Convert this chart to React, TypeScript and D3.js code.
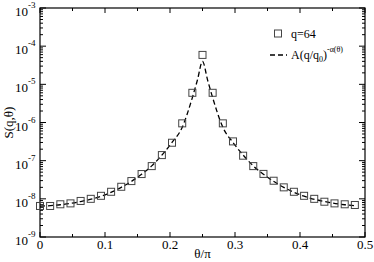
import React, { useEffect, useRef } from 'react';
import * as d3 from 'd3';

// theta/pi positions of the q=64 squares
const thetaPts = [
  0, 0.0156, 0.0313, 0.0469, 0.0625, 0.0781, 0.0938, 0.1094, 0.125, 0.1406, 0.1563,
  0.1719, 0.1875, 0.2031, 0.2188, 0.2344, 0.25, 0.2656, 0.2813, 0.2969, 0.3125, 0.3281,
  0.3438, 0.3594, 0.375, 0.3906, 0.4063, 0.4219, 0.4375, 0.4531, 0.4688, 0.4844,
];
const sPts = [
  6.5e-9, 6.5e-9, 7.2e-9, 7.6e-9, 8.8e-9, 1.0e-8, 1.2e-8, 1.53e-8, 2.07e-8, 2.92e-8, 4.46e-8,
  7.2e-8, 1.4e-7, 2.95e-7, 9.5e-7, 6.0e-6, 5.9e-5, 6.0e-6, 9.5e-7, 3.2e-7, 1.35e-7, 7.2e-8,
  4.5e-8, 2.98e-8, 2.0e-8, 1.53e-8, 1.2e-8, 1.0e-8, 8.4e-9, 7.6e-9, 7.2e-9, 6.9e-9,
];

// dashed fit curve A(q/q0)^-alpha(theta)
const thetaFit = [
  0, 0.0313, 0.0625, 0.0938, 0.125, 0.1563, 0.1719, 0.1875, 0.2031, 0.2188, 0.2266, 0.2344,
  0.2422, 0.25, 0.2578, 0.2656, 0.2734, 0.2813, 0.2969, 0.3125, 0.3281, 0.3438, 0.375, 0.4063,
  0.4375, 0.4688, 0.4844,
];
const sFit = [
  6.4e-9, 7.0e-9, 8.5e-9, 1.17e-8, 2.0e-8, 4.4e-8, 7.3e-8, 1.4e-7, 3.0e-7, 7.5e-7, 1.7e-6, 4.5e-6,
  1.3e-5, 4.0e-5, 1.3e-5, 4.5e-6, 1.7e-6, 7.5e-7, 3.0e-7, 1.4e-7, 7.3e-8, 4.4e-8, 2.0e-8, 1.17e-8,
  8.5e-9, 7.0e-9, 6.6e-9,
];

const xTicks = [0, 0.1, 0.2, 0.3, 0.4, 0.5];
const yExps = [-9, -8, -7, -6, -5, -4, -3];

const W = 374;
const H = 262;
const margin = { top: 8, right: 9, bottom: 25, left: 40 };
const FONT = '"Liberation Serif", "DejaVu Serif", serif';

const App = () => {
  const ref = useRef<SVGSVGElement>(null);

  useEffect(() => {
    const svg = d3.select(ref.current);
    svg.selectAll('*').remove();

    const x = d3.scaleLinear().domain([0, 0.5]).range([margin.left, W - margin.right]);
    const y = d3.scaleLog().domain([1e-9, 1e-3]).range([H - margin.bottom, margin.top]);
    const [x0, x1] = x.range();
    const [y0, y1] = y.range();

    // frame
    svg
      .append('rect')
      .attr('x', x0)
      .attr('y', y1)
      .attr('width', x1 - x0)
      .attr('height', y0 - y1)
      .attr('fill', 'none')
      .attr('stroke', '#000')
      .attr('stroke-width', 1.2);

    const ticks = svg.append('g').attr('stroke', '#000').attr('stroke-width', 1);

    // x ticks (major 0.1, minor 0.05), inward on bottom and top
    d3.range(0, 11).forEach((i) => {
      const v = i * 0.05;
      const len = i % 2 === 0 ? 5 : 3;
      const px = x(v);
      ticks.append('line').attr('x1', px).attr('x2', px).attr('y1', y0).attr('y2', y0 - len);
      ticks.append('line').attr('x1', px).attr('x2', px).attr('y1', y1).attr('y2', y1 + len);
    });

    // y log ticks, inward on left and right
    yExps.forEach((e, i) => {
      const major = Math.pow(10, e);
      [x0, x1].forEach((ax) => {
        const dir = ax === x0 ? 1 : -1;
        ticks
          .append('line')
          .attr('x1', ax)
          .attr('x2', ax + dir * 6)
          .attr('y1', y(major))
          .attr('y2', y(major));
        if (i < yExps.length - 1) {
          for (let m = 2; m <= 9; m++) {
            const yy = y(m * major);
            ticks
              .append('line')
              .attr('x1', ax)
              .attr('x2', ax + dir * 3)
              .attr('y1', yy)
              .attr('y2', yy);
          }
        }
      });
    });

    // x tick labels
    svg
      .append('g')
      .selectAll('text')
      .data(xTicks)
      .enter()
      .append('text')
      .attr('x', (d) => x(d))
      .attr('y', y0 + 12)
      .attr('text-anchor', 'middle')
      .attr('font-family', FONT)
      .attr('font-size', 13)
      .text((d) => (d === 0 ? '0' : d.toFixed(1)));

    // y tick labels 10^e
    const yl = svg
      .append('g')
      .selectAll('text')
      .data(yExps)
      .enter()
      .append('text')
      .attr('x', 15)
      .attr('y', (d) => y(Math.pow(10, d)) + 8)
      .attr('font-family', FONT)
      .attr('font-size', 13);
    yl.append('tspan').text('10');
    yl.append('tspan')
      .attr('font-size', 9)
      .attr('dy', -8)
      .text((d) => String(d));

    // axis titles
    svg
      .append('text')
      .attr('x', x(0.25))
      .attr('y', H - 4)
      .attr('text-anchor', 'middle')
      .attr('font-family', FONT)
      .attr('font-size', 13)
      .text('θ/π');
    svg
      .append('text')
      .attr('transform', `translate(13,${(y0 + y1) / 2}) rotate(-90)`)
      .attr('text-anchor', 'middle')
      .attr('font-family', FONT)
      .attr('font-size', 13)
      .text('S(q,θ)');

    // fit curve
    const line = d3
      .line<number>()
      .x((_, i) => x(thetaFit[i]))
      .y((d) => y(d))
      .curve(d3.curveMonotoneX);
    svg
      .append('path')
      .datum(sFit)
      .attr('d', line)
      .attr('fill', 'none')
      .attr('stroke', '#000')
      .attr('stroke-width', 1.3)
      .attr('stroke-dasharray', '5,3');

    // squares
    const sz = 7;
    svg
      .append('g')
      .selectAll('rect')
      .data(sPts)
      .enter()
      .append('rect')
      .attr('x', (_, i) => x(thetaPts[i]) - sz / 2)
      .attr('y', (d) => y(d) - sz / 2)
      .attr('width', sz)
      .attr('height', sz)
      .attr('fill', 'none')
      .attr('stroke', '#444')
      .attr('stroke-width', 1);

    // legend
    const lg = svg.append('g').attr('font-family', FONT).attr('font-size', 12);
    lg.append('rect')
      .attr('x', 274.5)
      .attr('y', 30)
      .attr('width', 7)
      .attr('height', 7)
      .attr('fill', 'none')
      .attr('stroke', '#444');
    lg.append('text').attr('x', 291).attr('y', 38).text('q=64');
    lg.append('line')
      .attr('x1', 270)
      .attr('x2', 287)
      .attr('y1', 55)
      .attr('y2', 55)
      .attr('stroke', '#000')
      .attr('stroke-width', 1.3)
      .attr('stroke-dasharray', '5,3');
    const ft = lg.append('text').attr('x', 291).attr('y', 59);
    ft.append('tspan').text('A(q/q');
    ft.append('tspan').attr('font-size', 8).attr('dy', 3).text('0');
    ft.append('tspan').attr('dy', -3).text(')');
    ft.append('tspan').attr('font-size', 8).attr('dy', -7).text('-α(θ)');
  }, []);

  return (
    <svg
      ref={ref}
      width={W}
      height={H}
      style={{ position: 'absolute', left: 0, top: 0, background: '#fff' }}
    />
  );
};

export default App;
